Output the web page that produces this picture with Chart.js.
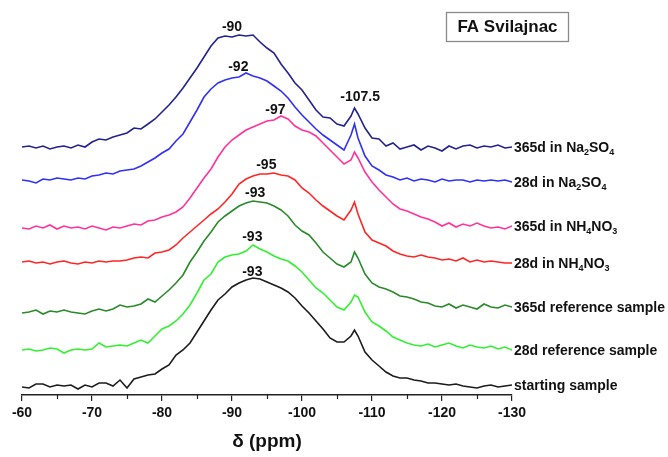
<!DOCTYPE html>
<html>
<head>
<meta charset="utf-8">
<script src="https://cdn.jsdelivr.net/npm/chart.js@4.4.1/dist/chart.umd.min.js"></script>
<style>
  html, body { margin: 0; padding: 0; background: #fff; }
  #wrap { width: 668px; height: 457px; }
</style>
</head>
<body>
<div id="wrap"><canvas id="c" width="668" height="457"></canvas></div>
<script>
// Chemical shift (ppm) sampling positions
const ppm = [-60,-61,-62,-63,-64,-65,-66,-67,-68,-69,
  -70,-71,-72,-73,-74,-75,-76,-77,-78,-79,
  -80,-81,-82,-83,-84,-85,-86,-87,-88,-89,
  -90,-91,-92,-93,-94,-95,-96,-97,-98,-99,
  -100,-101,-102,-103,-104,-105,-106,-107,-107.5,-108,
  -109,-110,-111,-112,-113,-114,-115,-116,-117,-118,-119,
  -120,-121,-122,-123,-124,-125,-126,-127,-128,-129,-130];

// Stacked intensities (arbitrary units), top to bottom
const na365 = [247,248,246,248,245,247,248,246,249,247,
  252,255,254,257,259,261,266,265,270,275,
  282,289,297,306,316,326,337,348,356,358,
  357,359,358,359,352,346,341,330,321,311,
  304,294,284,277,276,270,268,278,286,280,
  266,256,255,248,251,245,247,249,244,248,246,
  243,248,245,248,249,246,248,247,249,246,247];
const na28 = [214,213,211,215,214,216,215,214,216,215,
  218,219,221,220,223,224,225,228,232,236,
  241,245,253,260,272,284,297,305,311,314,
  316,317,321,318,316,313,308,303,296,287,
  279,272,265,259,254,249,244,259,270,256,
  238,228,224,219,217,214,216,213,215,214,212,
  215,213,214,214,212,214,213,214,213,214,212];
const nh365 = [166,165,168,166,169,165,168,166,167,165,
  168,166,164,167,166,168,170,169,173,174,
  177,179,182,187,196,206,216,225,237,247,
  254,259,264,267,270,273,274,278,275,268,
  264,262,258,251,244,237,230,234,242,236,
  222,212,204,197,190,185,183,180,177,175,172,
  168,171,167,170,168,171,168,166,167,165,168];
const nh28 = [132,133,131,132,130,132,133,131,130,132,
  131,133,132,133,133,134,136,137,136,141,
  142,144,149,156,162,168,174,180,185,192,
  200,210,215,218,220,220,221,219,218,214,
  206,201,194,188,183,178,174,184,192,180,
  162,154,151,148,143,140,138,137,139,137,136,
  134,135,133,136,132,134,132,133,132,131,131];
const ref365 = [81,82,84,80,83,82,84,82,81,80,
  83,85,83,85,89,87,88,90,95,92,
  98,104,111,119,132,142,153,162,172,178,
  183,188,191,193,192,191,188,184,178,169,
  163,159,151,142,136,130,127,132,142,136,
  120,111,107,105,102,98,97,95,92,91,88,
  87,90,86,89,87,85,90,87,86,89,87];
const ref28 = [44,45,43,44,46,45,41,44,45,44,
  45,51,47,48,49,48,51,54,51,58,
  65,68,73,80,89,101,114,120,132,137,
  139,140,143,149,145,142,138,135,133,128,
  122,114,106,101,94,87,84,92,99,97,
  82,72,68,63,57,54,51,49,48,50,47,
  49,51,48,46,49,47,46,48,45,47,44];
const start = [7,6,10,10,7,9,8,9,5,9,
  7,11,11,8,14,6,15,17,19,20,
  25,29,39,44,51,62,73,84,94,100,
  107,111,114,116,115,112,109,106,102,96,
  88,81,73,65,56,52,52,58,64,58,
  42,34,28,22,18,16,16,14,13,11,11,
  10,9,10,8,7,6,8,9,7,8,9];

// Series names ("_x" marks a subscript character)
const seriesLabels = ['365d in Na_2SO_4','28d in Na_2SO_4','365d in NH_4NO_3','28d in NH_4NO_3',
  '365d reference sample','28d reference sample','starting sample'];
const seriesValues = [na365, na28, nh365, nh28, ref365, ref28, start];
const seriesColors = ['#23238e','#3030f8','#ff3399','#ff2626','#2a8a2a','#33f033','#1c1c1c'];

// Peak annotations (text, ppm position, intensity position)
const peakText = ['-90','-92','-97','-95','-93','-93','-93','-107.5'];
const peakX = [-90, -90.9, -96.2, -94.9, -93.3, -92.9, -92.9, -108.3];
const peakY = [367, 327, 284, 229, 201, 157, 122, 297];

// Axis ticks
const minorTicks = [-65,-75,-85,-95,-105,-115,-125];
const axisTitle = 'δ (ppm)';
const boxTitle = 'FA Svilajnac';

const FONT = "'Liberation Sans', Arial, Helvetica, sans-serif";
Chart.defaults.font.family = FONT;

function drawRich(ctx, label, x, y) {
  const parts = [];
  let buf = '';
  for (let i = 0; i < label.length; i++) {
    if (label[i] === '_') {
      if (buf) parts.push([buf, false]);
      buf = '';
      parts.push([label[i + 1], true]);
      i++;
    } else buf += label[i];
  }
  if (buf) parts.push([buf, false]);
  ctx.textBaseline = 'middle';
  ctx.textAlign = 'left';
  let cx = x;
  parts.forEach(([t, sub]) => {
    ctx.font = sub ? 'bold 9px ' + FONT : 'bold 14px ' + FONT;
    ctx.fillText(t, cx, sub ? y + 5 : y);
    cx += ctx.measureText(t).width;
  });
}

const overlay = {
  id: 'overlay',
  afterDraw(chart) {
    const ctx = chart.ctx, xs = chart.scales.x, ys = chart.scales.y, area = chart.chartArea;
    ctx.save();
    ctx.strokeStyle = '#222';
    ctx.lineWidth = 1.2;
    minorTicks.forEach(v => {
      const px = Math.round(xs.getPixelForValue(v)) + 0.5;
      ctx.beginPath();
      ctx.moveTo(px, area.bottom);
      ctx.lineTo(px, area.bottom + 4);
      ctx.stroke();
    });
    ctx.fillStyle = '#111';
    chart.data.datasets.forEach((ds, i) => {
      const meta = chart.getDatasetMeta(i);
      const last = meta.data[meta.data.length - 1];
      drawRich(ctx, seriesLabels[i], area.right + 2, last.y + 1);
    });
    ctx.font = 'bold 14px ' + FONT;
    ctx.textAlign = 'center';
    ctx.textBaseline = 'middle';
    peakText.forEach((t, i) => {
      ctx.fillText(t, xs.getPixelForValue(peakX[i]), ys.getPixelForValue(peakY[i]));
    });
    // title box
    ctx.strokeStyle = '#8a8a8a';
    ctx.lineWidth = 1.3;
    ctx.strokeRect(446.5, 12.5, 122, 29);
    ctx.font = 'bold 17px ' + FONT;
    ctx.fillStyle = '#111';
    ctx.fillText(boxTitle, 507.5, 27.5);
    ctx.restore();
  }
};

new Chart(document.getElementById('c'), {
  type: 'line',
  data: {
    datasets: seriesValues.map((vals, i) => ({
      label: seriesLabels[i],
      data: vals.map((v, j) => ({ x: ppm[j], y: v })),
      borderColor: seriesColors[i],
      backgroundColor: seriesColors[i],
      borderWidth: 1.6,
      pointRadius: 0,
      tension: 0,
      fill: false
    }))
  },
  options: {
    responsive: false,
    animation: false,
    layout: { padding: { left: 22, right: 156, top: 20, bottom: 0 } },
    plugins: { legend: { display: false }, tooltip: { enabled: false } },
    scales: {
      x: {
        type: 'linear', reverse: true, min: -130, max: -60,
        ticks: { stepSize: 10, color: '#111', font: { size: 14, weight: 'bold' }, padding: 4, maxRotation: 0, autoSkip: false },
        grid: { drawOnChartArea: false, drawTicks: true, tickLength: 6, color: '#222', lineWidth: 1.2 },
        border: { display: true, color: '#222', width: 1.5 },
        title: { display: true, text: axisTitle, color: '#111', font: { size: 19, weight: 'bold' }, padding: { top: 0, bottom: 4 } },
        afterFit: s => { s.height = 62; }
      },
      y: { display: false, min: -1, max: 374 }
    }
  },
  plugins: [overlay]
});
</script>
</body>
</html>
